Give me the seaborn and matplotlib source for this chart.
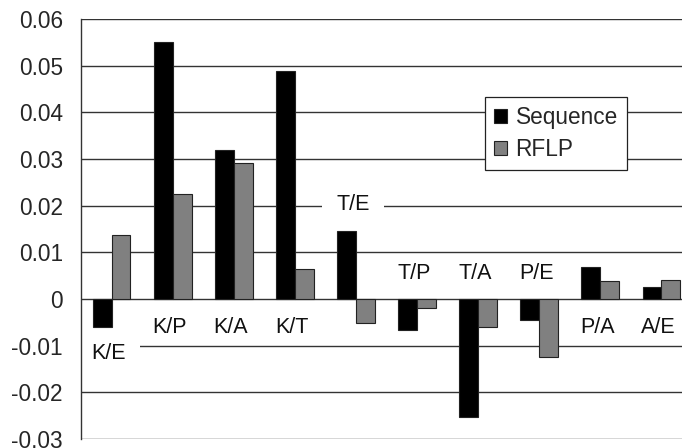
import matplotlib
matplotlib.use("Agg")
import matplotlib.pyplot as plt
import seaborn as sns
import pandas as pd

pairs = ["K/E", "K/P", "K/A", "K/T", "T/E", "T/P", "T/A", "P/E", "P/A", "A/E"]
sequence = [-0.0061, 0.0551, 0.0319, 0.0488, 0.0145, -0.0067, -0.0252, -0.0045, 0.0069, 0.0026]
rflp = [0.0137, 0.0224, 0.0291, 0.0064, -0.0052, -0.0020, -0.0061, -0.0125, 0.0039, 0.0041]
label_y = [-0.0116, -0.006, -0.006, -0.006, 0.0203, 0.0054, 0.0054, 0.0054, -0.006, -0.006]
boxed = ["K/E", "T/E"]
series_names = ["Sequence", "RFLP"]
yticks = [-0.03, -0.02, -0.01, 0, 0.01, 0.02, 0.03, 0.04, 0.05, 0.06]
ytick_labels = ["-0.03", "-0.02", "-0.01", "0", "0.01", "0.02", "0.03", "0.04", "0.05", "0.06"]

df = pd.DataFrame({
    "pair": pairs * 2,
    "value": sequence + rflp,
    "method": [series_names[0]] * len(pairs) + [series_names[1]] * len(pairs),
})

sns.set_style("white")
plt.rcParams["font.family"] = ["Liberation Sans", "DejaVu Sans"]

fig = plt.figure(figsize=(6.82, 4.48), dpi=100)
ax = fig.add_axes([81 / 682, 9 / 448, 611 / 682, 420 / 448])

sns.barplot(data=df, x="pair", y="value", hue="method", order=pairs,
            hue_order=series_names, palette=["#000000", "#808080"],
            width=0.62, gap=0, edgecolor="#222222", linewidth=0.8,
            saturation=1, ax=ax, zorder=3)

ax.set_ylim(-0.03, 0.06)
ax.set_xlim(-0.5, len(pairs) - 0.5)
ax.set_yticks(yticks)
ax.set_yticklabels(ytick_labels, fontsize=16.3)
ax.tick_params(axis="y", length=0, pad=13)
ax.set_xticks([])
ax.set_xlabel("")
ax.set_ylabel("")
for y in yticks:
    ax.axhline(y, color="#333333", lw=1.0, zorder=1)
for s in ["top", "right", "bottom"]:
    ax.spines[s].set_visible(False)
ax.spines["left"].set_color("#333333")
ax.spines["left"].set_linewidth(1.0)
ax.spines["left"].set_zorder(6)

for i, (p, ly) in enumerate(zip(pairs, label_y)):
    kw = {}
    if p in boxed:
        kw["bbox"] = dict(boxstyle="square,pad=0.65", fc="white", ec="none")
    ax.text(i - 0.05, ly, p, ha="center", va="center", fontsize=15.5,
            color="#111111", zorder=4, **kw)

leg = ax.legend(loc="upper left", bbox_to_anchor=((485 - 81) / 611, 1 - (97 - 19) / 420),
                borderaxespad=0, fontsize=16.3, frameon=True, fancybox=False,
                handlelength=0.55, handleheight=0.55, handletextpad=0.4,
                borderpad=0.4, labelspacing=0.4)
leg.get_frame().set_edgecolor("#222222")
leg.get_frame().set_linewidth(0.9)
leg.get_frame().set_alpha(1)
leg.set_zorder(5)

fig.savefig("out.png", dpi=100)
